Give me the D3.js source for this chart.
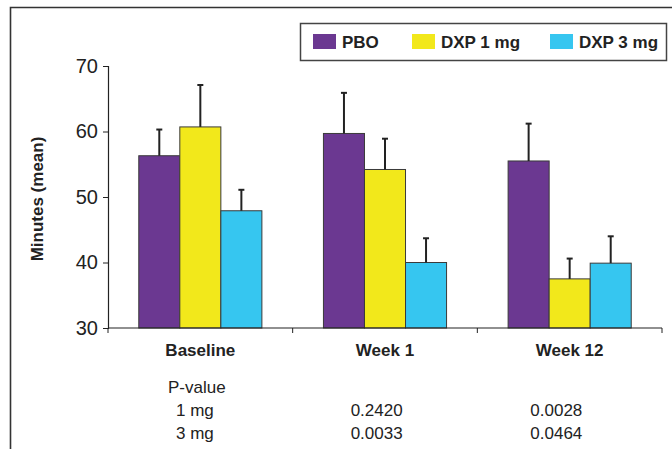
<!DOCTYPE html>
<html>
<head>
<meta charset="utf-8">
<script src="https://cdn.jsdelivr.net/npm/d3@7"></script>
<style>
  body { margin: 0; background: #fff; }
  text { font-family: "Liberation Sans", Arial, sans-serif; fill: #222; }
</style>
</head>
<body>
<div id="chart"></div>
<script>
const W = 672, H = 449;

const categories = ["Baseline", "Week 1", "Week 12"];
const series = ["PBO", "DXP 1 mg", "DXP 3 mg"];
const colors = ["#6b3891", "#f2e81b", "#36c6f0"];

// mean minutes per group, and upper error (SE) per group
const pboMean = [56.3, 59.7, 55.5];
const pboErr = [4.0, 6.2, 5.7];
const dxp1Mean = [60.7, 54.2, 37.5];
const dxp1Err = [6.4, 4.7, 3.1];
const dxp3Mean = [47.9, 40.0, 39.9];
const dxp3Err = [3.2, 3.7, 4.1];

const yTicks = [30, 40, 50, 60, 70];

// p-value table under the chart
const pRows = ["1 mg", "3 mg"];
const pWeek1 = ["0.2420", "0.0033"];
const pWeek12 = ["0.0028", "0.0464"];

const means = [pboMean, dxp1Mean, dxp3Mean];
const errs = [pboErr, dxp1Err, dxp3Err];

const data = [];
categories.forEach((c, ci) => {
  series.forEach((s, si) => {
    data.push({ cat: c, series: s, color: colors[si], value: means[si][ci], err: errs[si][ci] });
  });
});

const svg = d3.select("#chart").append("svg")
  .attr("width", W)
  .attr("height", H);

// outer frame (left + top only)
svg.append("path")
  .attr("d", "M10.5," + H + " V7.5 H" + W)
  .attr("fill", "none")
  .attr("stroke", "#333")
  .attr("stroke-width", 1.6);

const x0 = d3.scaleBand().domain(categories).range([108, 662]).paddingInner(0).paddingOuter(0);
const x1 = d3.scaleBand().domain(series).range([0, x0.bandwidth()]).paddingInner(0).paddingOuter(0.75);
const y = d3.scaleLinear().domain([30, 70]).range([328, 66]);

// bars
svg.append("g")
  .selectAll("rect")
  .data(data)
  .enter()
  .append("rect")
  .attr("x", (d) => x0(d.cat) + x1(d.series))
  .attr("y", (d) => y(d.value))
  .attr("width", x1.bandwidth())
  .attr("height", (d) => y(30) - y(d.value))
  .attr("fill", (d) => d.color)
  .attr("stroke", "#3a3a3a")
  .attr("stroke-width", 1);

// error bars (upper only)
const eb = svg.append("g").attr("stroke", "#222").attr("stroke-width", 2);
eb.selectAll("line.v")
  .data(data)
  .enter()
  .append("line")
  .attr("class", "v")
  .attr("x1", (d) => x0(d.cat) + x1(d.series) + x1.bandwidth() / 2)
  .attr("x2", (d) => x0(d.cat) + x1(d.series) + x1.bandwidth() / 2)
  .attr("y1", (d) => y(d.value))
  .attr("y2", (d) => y(d.value + d.err));
eb.selectAll("line.cap")
  .data(data)
  .enter()
  .append("line")
  .attr("class", "cap")
  .attr("x1", (d) => x0(d.cat) + x1(d.series) + x1.bandwidth() / 2 - 3)
  .attr("x2", (d) => x0(d.cat) + x1(d.series) + x1.bandwidth() / 2 + 3)
  .attr("y1", (d) => y(d.value + d.err))
  .attr("y2", (d) => y(d.value + d.err));

// y axis
const yAxis = svg.append("g")
  .attr("transform", "translate(108,0)")
  .call(d3.axisLeft(y).tickValues(yTicks).tickSize(5).tickPadding(5).tickFormat(d3.format("d")));
yAxis.select(".domain").attr("stroke", "#222").attr("stroke-width", 1.2);
yAxis.selectAll(".tick line").attr("stroke", "#222");
yAxis.selectAll(".tick text")
  .style("font-family", '"Liberation Sans Narrow", "Liberation Sans", Arial, sans-serif')
  .style("font-size", "20px")
  .attr("fill", "#222");

// x axis with boundary ticks
svg.append("line")
  .attr("x1", x0.range()[0]).attr("x2", x0.range()[1])
  .attr("y1", y(30)).attr("y2", y(30))
  .attr("stroke", "#222").attr("stroke-width", 1.2);
const bounds = categories.map((c) => x0(c)).concat([x0.range()[1]]);
svg.append("g")
  .selectAll("line")
  .data(bounds)
  .enter()
  .append("line")
  .attr("x1", (d) => d).attr("x2", (d) => d)
  .attr("y1", y(30)).attr("y2", y(30) + 5)
  .attr("stroke", "#222").attr("stroke-width", 1);

svg.append("g")
  .selectAll("text")
  .data(categories)
  .enter()
  .append("text")
  .attr("x", (d) => x0(d) + x0.bandwidth() / 2)
  .attr("y", 356)
  .attr("text-anchor", "middle")
  .style("font-size", "17px")
  .style("font-weight", "bold")
  .text((d) => d);

// y axis title
svg.append("text")
  .attr("transform", "translate(43," + (y(50) + 2) + ") rotate(-90)")
  .attr("text-anchor", "middle")
  .style("font-size", "17px")
  .style("font-weight", "bold")
  .text("Minutes (mean)");

// legend
const lg = svg.append("g");
lg.append("rect")
  .attr("x", 300.5).attr("y", 23.5)
  .attr("width", 366).attr("height", 37)
  .attr("fill", "#fff")
  .attr("stroke", "#444")
  .attr("stroke-width", 1.5);
const legendX = [313, 412, 550];
series.forEach((s, i) => {
  lg.append("rect")
    .attr("x", legendX[i]).attr("y", 34)
    .attr("width", 23).attr("height", 15)
    .attr("fill", colors[i]);
  lg.append("text")
    .attr("x", legendX[i] + 29).attr("y", 48)
    .style("font-size", "17px")
    .style("font-weight", "bold")
    .text(s);
});

// p-value table
const tbl = svg.append("g").style("font-size", "17px");
tbl.append("text").attr("x", 168).attr("y", 393).text("P-value");
pRows.forEach((r, i) => {
  const yy = 416 + i * 23;
  tbl.append("text").attr("x", 176).attr("y", yy).text(r);
  tbl.append("text").attr("x", x0("Week 1") + 58).attr("y", yy).text(pWeek1[i]);
  tbl.append("text").attr("x", x0("Week 12") + 53).attr("y", yy).text(pWeek12[i]);
});
</script>
</body>
</html>
